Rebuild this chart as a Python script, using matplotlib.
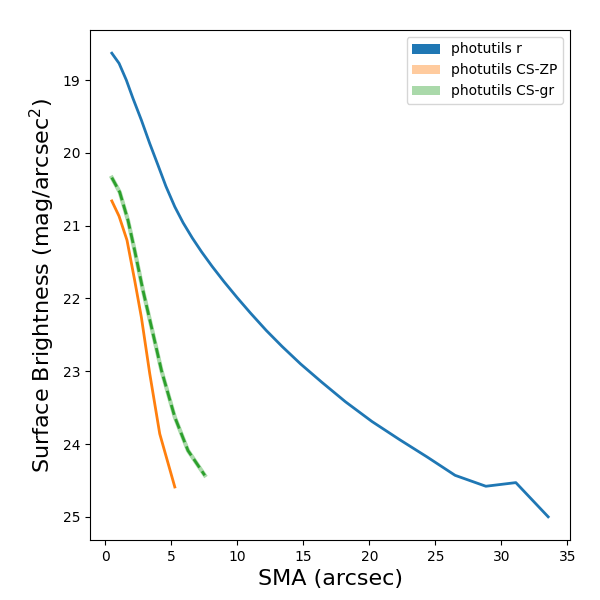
import matplotlib
matplotlib.use("Agg")
import matplotlib.pyplot as plt
from matplotlib.patches import Patch

# photutils r
sma_r = [0.5, 1.05, 1.6, 2.1, 2.74, 3.37, 4.0, 4.6, 5.27, 5.9, 6.6, 7.3, 8.1,
         9.0, 10.0, 11.0, 12.2, 13.4, 14.8, 16.4, 18.2, 20.2, 22.3, 24.4,
         26.5, 28.83, 31.1, 33.55]
mu_r = [18.63, 18.77, 19.0, 19.25, 19.55, 19.87, 20.17, 20.46, 20.74, 20.96,
        21.17, 21.36, 21.56, 21.77, 21.99, 22.20, 22.44, 22.66, 22.90, 23.15,
        23.42, 23.69, 23.94, 24.18, 24.43, 24.58, 24.53, 25.0]

# photutils CS-ZP
sma_zp = [0.5, 1.05, 1.65, 2.23, 2.74, 3.37, 4.13, 5.27]
mu_zp = [20.66, 20.87, 21.2, 21.75, 22.26, 23.03, 23.86, 24.59]

# photutils CS-gr
sma_gr = [0.5, 1.1, 1.73, 2.23, 2.86, 3.5, 4.26, 5.27, 6.27, 7.54]
mu_gr = [20.34, 20.54, 20.93, 21.34, 21.89, 22.39, 22.99, 23.63, 24.09, 24.43]

labels = ["photutils r", "photutils CS-ZP", "photutils CS-gr"]

fig = plt.figure(figsize=(6, 6), dpi=100)
ax = fig.add_axes([0.15, 0.1, 0.8, 0.85])

ax.plot(sma_r, mu_r, color="C0", lw=2)
ax.plot(sma_zp, mu_zp, color="C1", lw=2)
ax.plot(sma_gr, mu_gr, color="C2", lw=3, alpha=0.4)
ax.plot(sma_gr, mu_gr, color="C2", lw=2, ls="--")

ax.invert_yaxis()
ax.set_xlabel("SMA (arcsec)", fontsize=16)
ax.set_ylabel("Surface Brightness (mag/arcsec$^2$)", fontsize=16)

handles = [Patch(facecolor="C0"),
           Patch(facecolor="C1", alpha=0.4),
           Patch(facecolor="C2", alpha=0.4)]
ax.legend(handles, labels, loc="upper right")

fig.savefig("out.png", dpi=100)
